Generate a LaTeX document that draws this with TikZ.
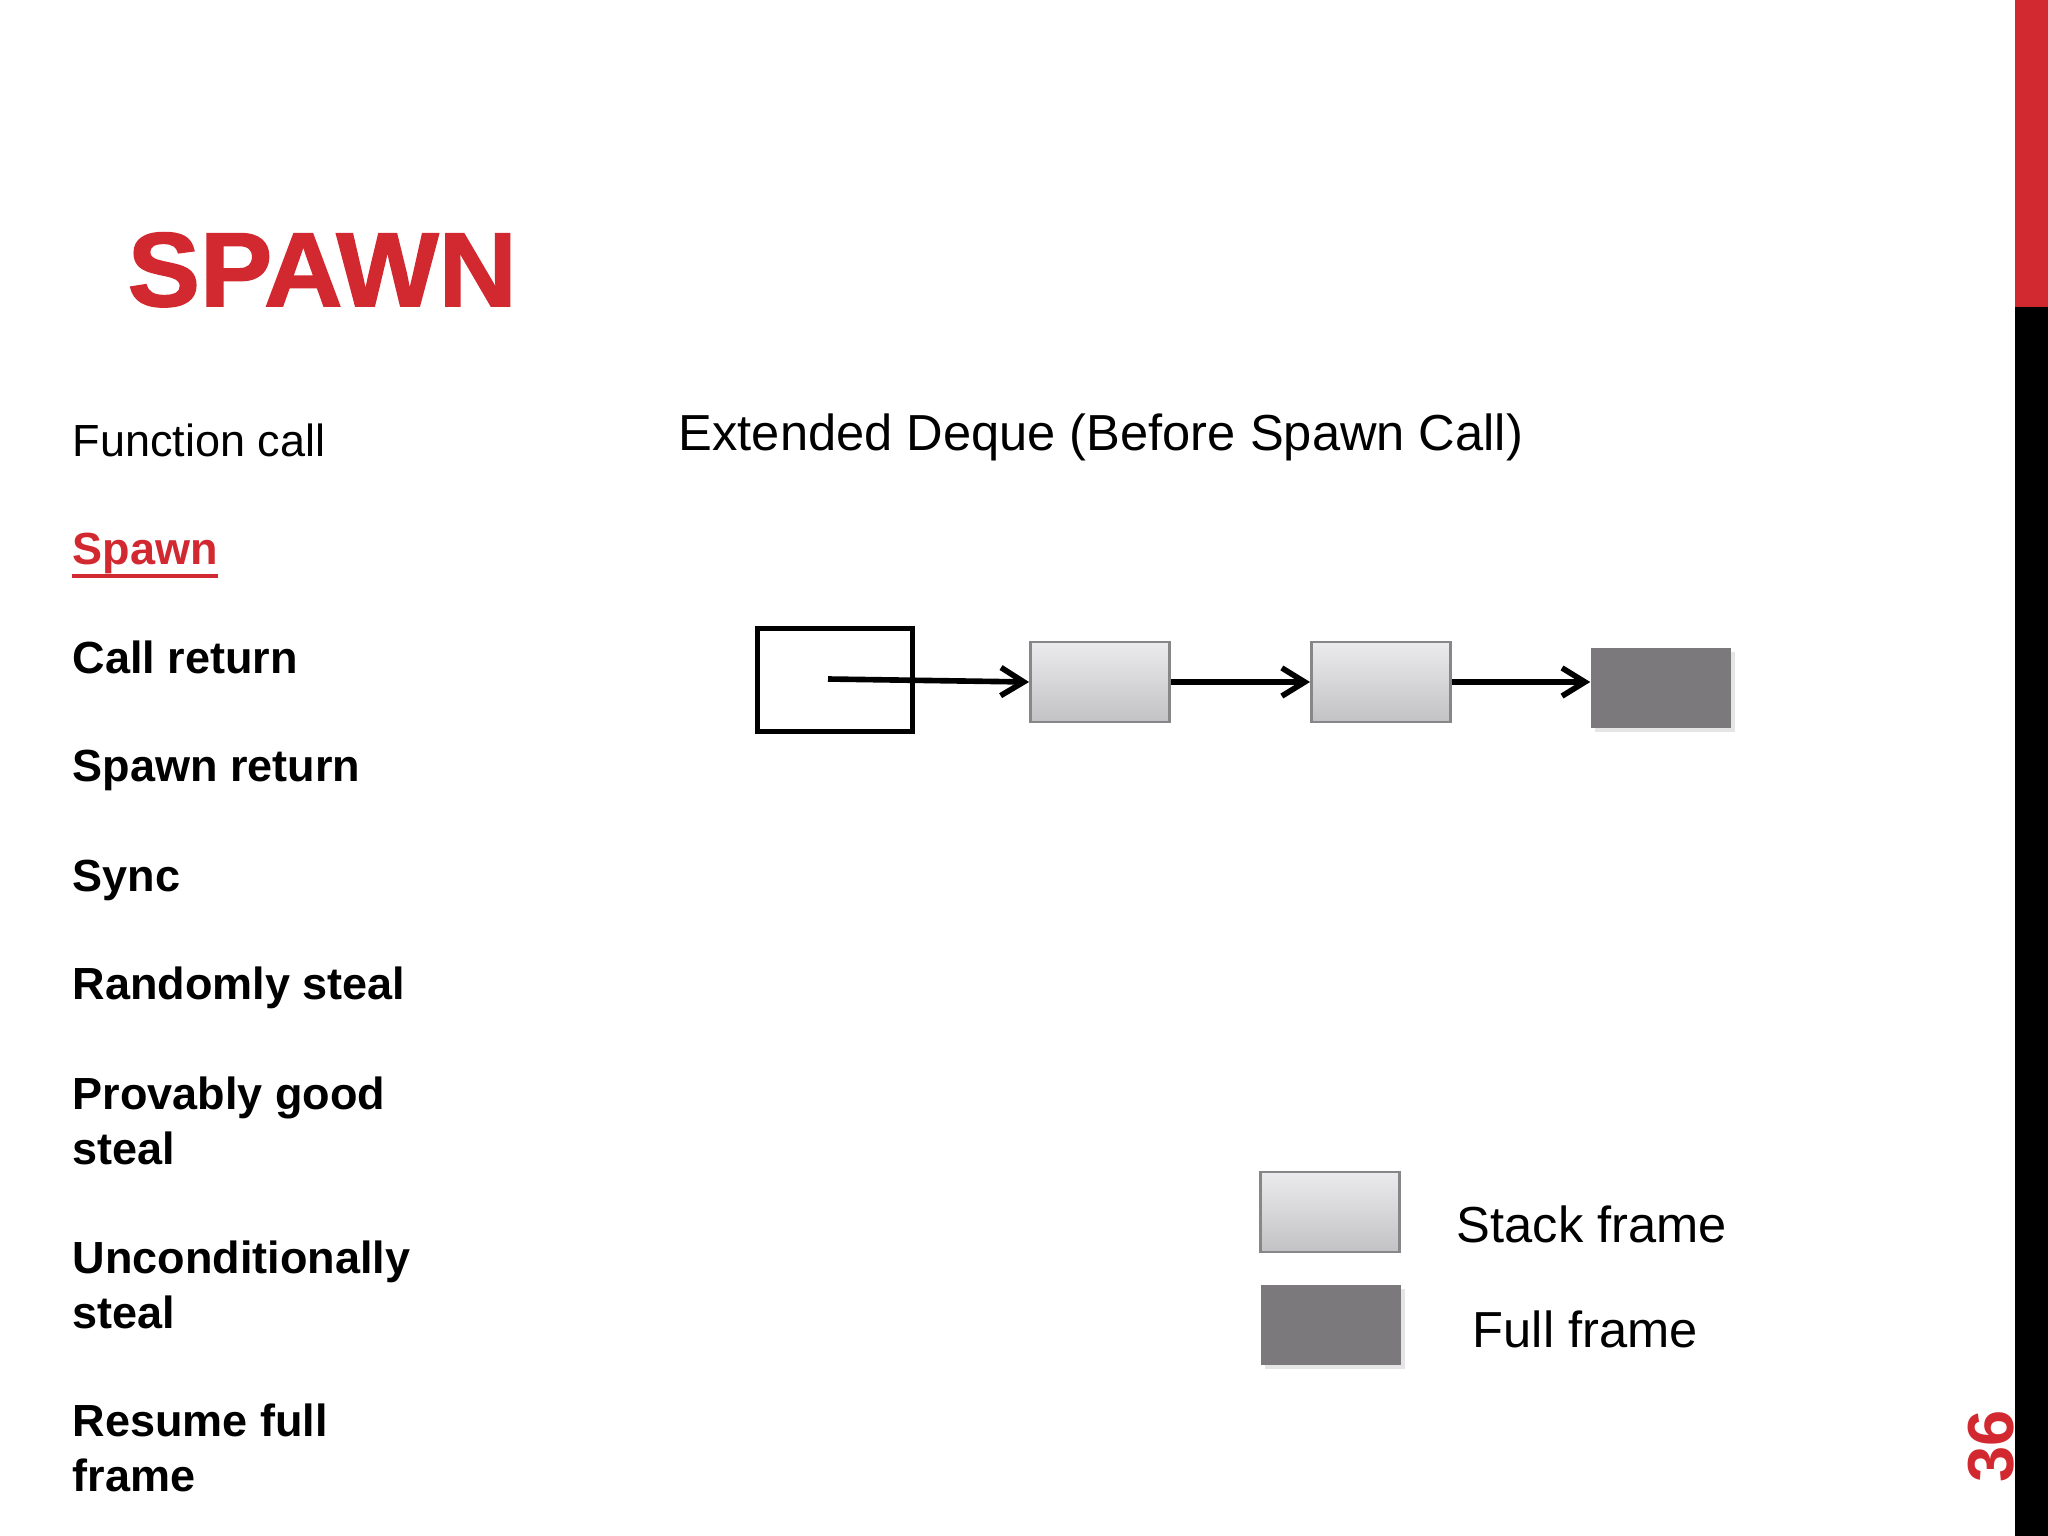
\documentclass[tikz,border=0pt]{standalone}
\usepackage{fontspec}
\setmainfont{Liberation Sans}
\newfontface\titleface{Liberation Sans Bold}[FakeBold=1.6]
\usetikzlibrary{arrows.meta,shadows,positioning}

\definecolor{spawnred}{RGB}{210,40,48}
\definecolor{fullgray}{RGB}{123,121,124}
\definecolor{stacktop}{RGB}{235,234,237}
\definecolor{stackbot}{RGB}{194,193,196}
\definecolor{edgegray}{RGB}{135,135,138}

\newcommand\menufont{\fontsize{12.8}{15.4}\selectfont}
\newcommand\keyfont{\fontsize{14.4}{17}\selectfont}

\tikzset{
    menuitem/.style={anchor=base west, inner sep=0pt, align=left, font=\menufont\bfseries},
    keytext/.style={anchor=base west, inner sep=0pt, font=\keyfont},
    ptrbox/.style={draw, line width=1.5pt, minimum width=1.55cm, minimum height=1.03cm},
    stackbox/.style={draw=edgegray, line width=0.8pt, top color=stacktop, bottom color=stackbot,
        minimum width=1.39cm, minimum height=0.80cm},
    fullbox/.style={fill=fullgray, minimum width=1.40cm, minimum height=0.80cm,
        drop shadow={shadow xshift=1.2pt, shadow yshift=-1.2pt, opacity=0.2}},
    link/.style={-{Straight Barb[length=6.5pt,width=8pt]}, line width=1.6pt}
}

\begin{document}
\begin{tikzpicture}[x=0.01cm, y=-0.01cm]
    % Page and side bar
    \useasboundingbox (0,0) rectangle (2048,1536);
    \fill[white] (0,0) rectangle (2048,1536);
    \fill[spawnred] (2015,0) rectangle (2048,307);
    \fill[black] (2015,307) rectangle (2048,1536);

    % Title and page number
    \node[anchor=base west, inner sep=0pt, text=spawnred, xscale=1.03, font=\fontsize{29.9}{34}\selectfont\titleface] (title) at (127,306) {SPAWN};
    \node[rotate=90, inner sep=0pt, text=spawnred, font=\fontsize{18.5}{20}\selectfont\bfseries] (page) at (1991,1446) {36};

    % Menu on the left
    \node[menuitem, font=\menufont\mdseries] (fcall) at (72,456) {Function call};
    \node[menuitem, text=spawnred] (spawn) at (72,564) {Spawn};
    \draw[spawnred, line width=1pt] ([yshift=-0.6pt]spawn.south west) -- ([yshift=-0.6pt]spawn.south east);
    \node[menuitem] (cret) at (72,673) {Call return};
    \node[menuitem] (sret) at (72,781) {Spawn return};
    \node[menuitem] (sync) at (72,891) {Sync};
    \node[menuitem] (rsteal) at (72,999) {Randomly steal};
    % two-line items sit on their last line
    \node[menuitem] (psteal) at (72,1164) {Provably good\\steal};
    \node[menuitem] (usteal) at (72,1328) {Unconditionally\\steal};
    \node[menuitem] (resume) at (72,1491) {Resume full\\frame};

    % Deque before the spawn
    \node[keytext] (head) at (678,450) {Extended Deque (Before Spawn Call)};
    \node[ptrbox] (ptr) at (835,680) {};
    \coordinate (ptrstart) at (828,679);
    \node[stackbox] (sf1) at (1100,682) {};
    \node[stackbox] (sf2) at (1381,682) {};
    \node[fullbox] (ff) at (1661,688) {};
    \draw[link] (ptrstart) -- (sf1.west);
    \draw[link] (sf1.east) -- (sf2.west);
    \draw[link] (sf2.east) -- (sf2.east -| ff.west);

    % Legend
    \node[stackbox] (keysf) at (1330,1212) {};
    \node[fullbox] (keyff) at (1331,1325) {};
    \node[keytext] (keysftext) at (1456,1242) {Stack frame};
    \node[keytext] (keyfftext) at (1472,1347) {Full frame};
\end{tikzpicture}
\end{document}
